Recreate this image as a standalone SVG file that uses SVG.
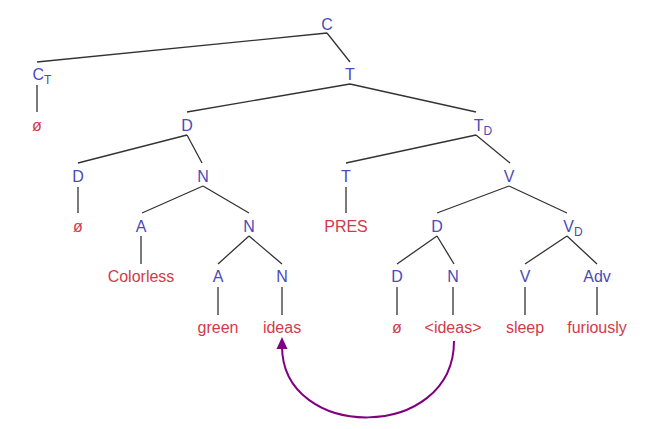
<svg xmlns="http://www.w3.org/2000/svg" width="648" height="429" viewBox="0 0 648 429">
<defs>
<style>
.lbl{font-family:"Liberation Sans",Arial,sans-serif;font-size:16px;fill:#4a4ab8;text-anchor:middle}
.sub{font-size:12px}
.leaf{font-family:"Liberation Sans",Arial,sans-serif;font-size:16px;fill:#d23a4a;text-anchor:middle}
.edge{stroke:#333;stroke-width:1.3;fill:none}
.mv{stroke:#800080;stroke-width:2;fill:none}
</style>
<marker id="ah" markerWidth="10" markerHeight="10" refX="5" refY="3" orient="auto" markerUnits="userSpaceOnUse" viewBox="0 0 10 10">
<path d="M0,10 L5,0 L10,10 Z" fill="#800080" transform="rotate(0)"/>
</marker>
</defs>
<rect width="648" height="429" fill="#fff"/>
<g id="connectors">
<path class="edge" d="M327,33 L37,62 M327,33 L350,62"/>
<path class="edge" d="M37,85 L37,112"/>
<path class="edge" d="M350,84 L187,112 M350,84 L476,112"/>
<path class="edge" d="M187,135 L78,163 M187,135 L202,163"/>
<path class="edge" d="M476,135 L346,163 M476,135 L510,163"/>
<path class="edge" d="M78,187 L78,213"/>
<path class="edge" d="M203,186 L142,213 M203,186 L249,213"/>
<path class="edge" d="M141,236 L141,264"/>
<path class="edge" d="M249,236 L218,264 M249,236 L282,264"/>
<path class="edge" d="M218,287 L218,315 M282,287 L282,315"/>
<path class="edge" d="M346,187 L346,213"/>
<path class="edge" d="M509,186 L437,213 M509,186 L567,213"/>
<path class="edge" d="M437,236 L397,264 M437,236 L454,264"/>
<path class="edge" d="M567,236 L525,264 M567,236 L597,264"/>
<path class="edge" d="M397,287 L397,315 M453,287 L453,315 M525,287 L525,315 M597,287 L597,315"/>
<path class="mv" d="M454,341 C454,442 282,442 282,346"/>
<path d="M282,337 L276.5,349 L287.5,349 Z" fill="#800080"/>
</g>
<g id="n-C"><text class="lbl" x="327" y="30">C</text></g>
<g id="n-CT"><text class="lbl" x="42" y="80">C<tspan class="sub" dy="4">T</tspan></text></g>
<g id="n-CT-leaf"><text class="leaf" x="37" y="131">ø</text></g>
<g id="n-T"><text class="lbl" x="350" y="80">T</text></g>
<g id="n-D"><text class="lbl" x="187" y="131">D</text></g>
<g id="n-TD"><text class="lbl" x="483" y="131">T<tspan class="sub" dy="4">D</tspan></text></g>
<g id="n-D2"><text class="lbl" x="78" y="182">D</text></g>
<g id="n-N"><text class="lbl" x="203" y="182">N</text></g>
<g id="n-T2"><text class="lbl" x="346" y="182">T</text></g>
<g id="n-V"><text class="lbl" x="509" y="182">V</text></g>
<g id="n-D2-leaf"><text class="leaf" x="78" y="232">ø</text></g>
<g id="n-A"><text class="lbl" x="141" y="232">A</text></g>
<g id="n-N2"><text class="lbl" x="249" y="232">N</text></g>
<g id="n-PRES"><text class="leaf" x="346" y="232">PRES</text></g>
<g id="n-D3"><text class="lbl" x="437" y="232">D</text></g>
<g id="n-VD"><text class="lbl" x="573" y="232">V<tspan class="sub" dy="4">D</tspan></text></g>
<g id="n-Colorless"><text class="leaf" x="141" y="282">Colorless</text></g>
<g id="n-A2"><text class="lbl" x="218" y="282">A</text></g>
<g id="n-N3"><text class="lbl" x="282" y="282">N</text></g>
<g id="n-D4"><text class="lbl" x="397" y="282">D</text></g>
<g id="n-N4"><text class="lbl" x="453" y="282">N</text></g>
<g id="n-V2"><text class="lbl" x="525" y="282">V</text></g>
<g id="n-Adv"><text class="lbl" x="597" y="282">Adv</text></g>
<g id="n-green"><text class="leaf" x="218" y="333">green</text></g>
<g id="n-ideas"><text class="leaf" x="282" y="333">ideas</text></g>
<g id="n-null"><text class="leaf" x="397" y="333">ø</text></g>
<g id="n-ideas-copy"><text class="leaf" x="453" y="333">&lt;ideas&gt;</text></g>
<g id="n-sleep"><text class="leaf" x="525" y="333">sleep</text></g>
<g id="n-furiously"><text class="leaf" x="597" y="333">furiously</text></g>
</svg>
